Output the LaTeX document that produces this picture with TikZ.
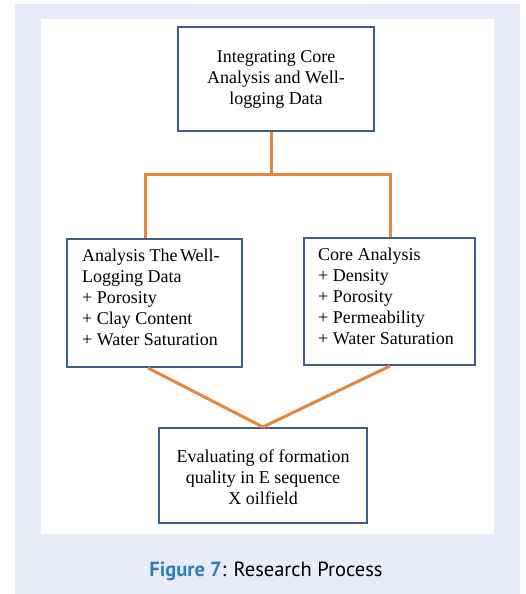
\documentclass[tikz,border=0pt]{standalone}
\usepackage{fontspec}
\setmainfont{Liberation Serif}
\newfontfamily\capfont{PT Sans}
\definecolor{panel}{HTML}{E7ECF6}
\definecolor{boxblue}{HTML}{3F5E8C}
\definecolor{linkorange}{HTML}{E8853D}
\definecolor{capblue}{HTML}{2F7DC0}
\tikzset{
  box/.style={draw=boxblue, line width=2pt, fill=white, inner sep=0pt},
  txt/.style={inner sep=0pt, font=\fontsize{18}{21}\selectfont},
  conn/.style={draw=linkorange, line width=3pt, line join=miter}
}
\begin{document}
\begin{tikzpicture}[x=1pt,y=-1pt]
\useasboundingbox (0,0) rectangle (525,594);
\fill[white] (0,0) rectangle (525,594);
\fill[panel] (15,4) rectangle (520,594);
\fill[white] (41,19) rectangle (494,534);
% boxes
\node[box, minimum width=196pt, minimum height=104pt] (T) at (276,79) {};
\node[box, minimum width=175pt, minimum height=128pt] (L) at (154.5,303) {};
\node[box, minimum width=171pt, minimum height=127pt] (R) at (389.5,301.5) {};
\node[box, minimum width=208pt, minimum height=95pt] (B) at (263,475.5) {};
% texts
\node[txt, align=center] (Tt) at (276,79) {Integrating Core\\Analysis and Well-\\logging Data};
\node[txt, align=left, anchor=west] (Lt) at (82,297) {Analysis The\hspace{-2pt} Well-\\Logging Data\\+ Porosity\\+ Clay Content\\+ Water Saturation};
\node[txt, align=left, anchor=west] (Rt) at (318,296) {Core Analysis\\+ Density\\+ Porosity\\+ Permeability\\+ Water Saturation};
\node[txt, align=center] (Bt) at (263,477) {Evaluating of formation\\quality in E sequence\\X oilfield};
% connectors
\coordinate (j) at (271,174.5);
\coordinate (jl) at (145.5,174.5);
\coordinate (jr) at (390,174.5);
\draw[conn] (T.south -| j) -- (j);
\draw[conn] (L.north -| jl) -- (jl) -- (jr) -- (R.north -| jr);
\draw[conn] (L.south -| 148,0) -- (B.north);
\draw[conn] (R.south -| 390,0) -- (B.north);
% caption
\node[inner sep=0pt, font=\capfont\fontsize{20.5}{24}\selectfont] (cap) at (266,571) {\textcolor{capblue}{\bfseries Figure 7}: Research Process};
\end{tikzpicture}
\end{document}
